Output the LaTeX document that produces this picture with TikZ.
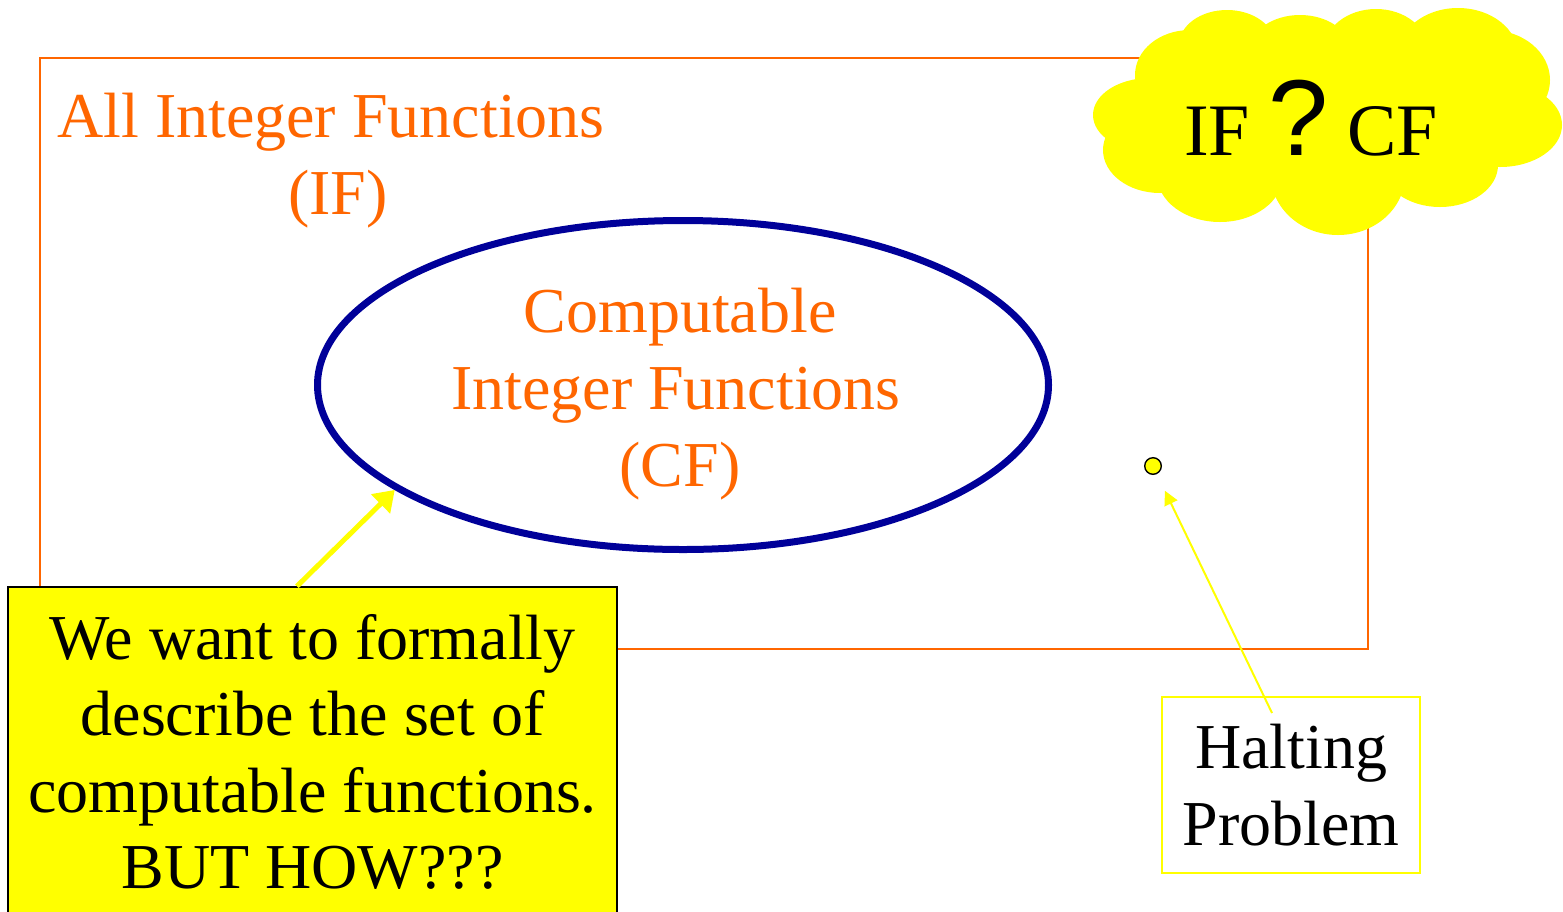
\documentclass[tikz,border=0pt]{standalone}
\usepackage{fontspec}
\setmainfont{Liberation Serif}
\newfontfamily\qmarkfont{Liberation Sans}
\usetikzlibrary{shapes.geometric,arrows.meta,calc}
\definecolor{setorange}{HTML}{FF6600}
\definecolor{setnavy}{HTML}{000099}
\definecolor{noteyellow}{HTML}{FFFF00}

\begin{document}
\begin{tikzpicture}[x=0.5pt,y=-0.5pt,
  bigtext/.style={font=\fontsize{32}{38.3}\selectfont, align=center, inner sep=0pt},
  settext/.style={bigtext, text=setorange},
  pointer/.style={draw=noteyellow},
  puff/.style={fill=noteyellow},
]
\useasboundingbox (0,0) rectangle (1563,911);

% the set of all integer functions
\node[draw=setorange, line width=1pt, minimum width=664pt, minimum height=295.5pt,
      inner sep=0pt] (ifset) at (704,353.5) {};
\node[settext] (iflabel) at (331,160.5) {All Integer Functions\\\hspace*{7pt}(IF)};

% the computable functions inside it
\node[ellipse, draw=setnavy, line width=3.5pt, minimum width=365.5pt,
      minimum height=164.5pt, inner sep=0pt] (cfset) at (683,385) {};
\node[settext] (cflabel) at (676,394)
  {\hspace*{4pt}Computable\\Integer Functions\hspace*{5pt}\\\hspace*{4pt}(CF)};

% the question cloud, built from overlapping puffs
\fill[puff] (1227,45) ellipse [x radius=24pt, y radius=17.5pt];
\fill[puff] (1300,50) ellipse [x radius=25pt, y radius=17.5pt];
\fill[puff] (1376,50) ellipse [x radius=26pt, y radius=20.5pt];
\fill[puff] (1458,55) ellipse [x radius=30pt, y radius=23.5pt];
\fill[puff] (1490,80) ellipse [x radius=30pt, y radius=25pt];
\fill[puff] (1500,125) ellipse [x radius=31pt, y radius=21pt];
\fill[puff] (1440,165) ellipse [x radius=29pt, y radius=21pt];
\fill[puff] (1338,175) ellipse [x radius=33.5pt, y radius=30pt];
\fill[puff] (1220,175) ellipse [x radius=31.5pt, y radius=23.5pt];
\fill[puff] (1160,150) ellipse [x radius=28.5pt, y radius=21.5pt];
\fill[puff] (1150,115) ellipse [x radius=28.5pt, y radius=18.5pt];
\fill[puff] (1190,75) ellipse [x radius=27.5pt, y radius=22.5pt];
\fill[puff] (1330,120) ellipse [x radius=80pt, y radius=37.5pt];
\node[font=\fontsize{37}{44}\selectfont, inner sep=0pt, anchor=base]
      (cloudtext) at (1311,155) {IF {\qmarkfont\fontsize{54}{60}\selectfont ?} CF};

% the halting problem point
\node[circle, draw=black, fill=noteyellow, line width=0.7pt, minimum size=8.3pt,
      inner sep=0pt] (halting) at (1153,466) {};
\node[bigtext, draw=noteyellow, line width=1pt, fill=white,
      minimum width=129pt, minimum height=88pt] (haltnote) at (1291,785)
      {Halting\\Problem};

% the note in the lower left
\node[bigtext, draw=black, line width=0.75pt, fill=noteyellow,
      minimum width=304.5pt, minimum height=165pt] (wantnote) at (312.5,752)
      {We want to formally\\describe the set of\hspace*{5pt}\\computable functions.\\BUT HOW???};

% pointers
\draw[pointer, line width=2.5pt, -{Triangle[length=10pt,width=13pt]}]
  ($(wantnote.north west)!0.4745!(wantnote.north east)$) -- (cfset.200.3);
\draw[pointer, line width=1pt, shorten >=13.75pt,
      -{Triangle[length=7pt,width=7pt]}]
  ([shift={(111,17)}]haltnote.north west) -- (halting.center);
\end{tikzpicture}
\end{document}
